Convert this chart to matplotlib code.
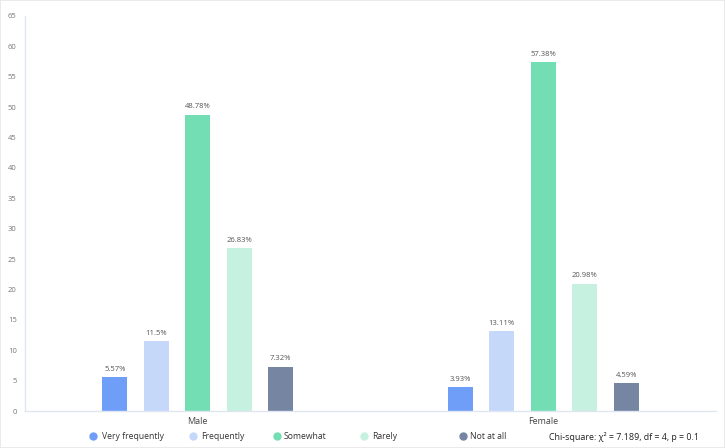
import matplotlib
matplotlib.use("Agg")
import matplotlib.pyplot as plt
from matplotlib.lines import Line2D
from matplotlib.patches import Rectangle
import numpy as np

plt.rcParams['font.family'] = ['Open Sans', 'DejaVu Sans']

groups = ["Male", "Female"]
series = ["Very frequently", "Frequently", "Somewhat", "Rarely", "Not at all"]
values = {
    "Very frequently": [5.57, 3.93],
    "Frequently": [11.5, 13.11],
    "Somewhat": [48.78, 57.38],
    "Rarely": [26.83, 20.98],
    "Not at all": [7.32, 4.59],
}
labels = {
    "Very frequently": ["5.57%", "3.93%"],
    "Frequently": ["11.5%", "13.11%"],
    "Somewhat": ["48.78%", "57.38%"],
    "Rarely": ["26.83%", "20.98%"],
    "Not at all": ["7.32%", "4.59%"],
}
colors = ["#6F9EF8", "#C6D8FA", "#73DEB3", "#C6F0E0", "#7585A2"]
yticks = list(range(0, 70, 5))
note = "Chi-square: χ² = 7.189, df = 4, p = 0.1"

W, H = 725, 448
fig = plt.figure(figsize=(W / 100, H / 100), dpi=100)
ax = fig.add_axes([25 / W, (H - 411) / H, (716 - 25) / W, (411 - 16) / H])

x = np.arange(len(groups))
width = 0.0725
step = 0.12
for i, (s, c) in enumerate(zip(series, colors)):
    off = (i - 2) * step
    bars = ax.bar(x + off, values[s], width=width, color=c, zorder=2)
    for b, lab in zip(bars, labels[s]):
        ax.annotate(lab, (b.get_x() + b.get_width() / 2, b.get_height()),
                    xytext=(0, 3), textcoords="offset points",
                    ha="center", va="bottom", fontsize=5.5, color="#555555")

ax.set_xlim(-0.5, 1.5)
ax.set_ylim(0, 65)
ax.set_yticks(yticks)
ax.set_yticklabels([str(t) for t in yticks], fontsize=5.5, color="#777777")
ax.set_xticks(x)
ax.set_xticklabels(groups, fontsize=6.5, color="#444444")
ax.tick_params(axis="both", length=0, pad=6)
ax.tick_params(axis="x", pad=4)
for sp in ["top", "right"]:
    ax.spines[sp].set_visible(False)
ax.spines["left"].set_color("#E0E6F1")
ax.spines["bottom"].set_color("#E0E6F1")
ax.spines["left"].set_linewidth(1.0)
ax.spines["bottom"].set_linewidth(1.0)

# legend entries (manual positions)
marker_x = [93, 193, 277, 364, 463]
text_x = [102, 201, 284, 372, 470]
ly = 436
for s, c, mx, tx in zip(series, colors, marker_x, text_x):
    fig.add_artist(Line2D([mx / W], [(H - ly) / H], marker="o", markersize=5,
                          color=c, linestyle="none", transform=fig.transFigure))
    fig.text(tx / W, (H - ly) / H, s, fontsize=6.2, color="#333333",
             ha="left", va="center")

fig.text(549 / W, (H - 437) / H, note, fontsize=6.4, color="#222222",
         ha="left", va="center")

# faint border
fig.add_artist(Rectangle((0, 0), 1, 1, transform=fig.transFigure, fill=False,
                         edgecolor="#E6E6E6", linewidth=1.2))

fig.savefig("out.png", dpi=100)
